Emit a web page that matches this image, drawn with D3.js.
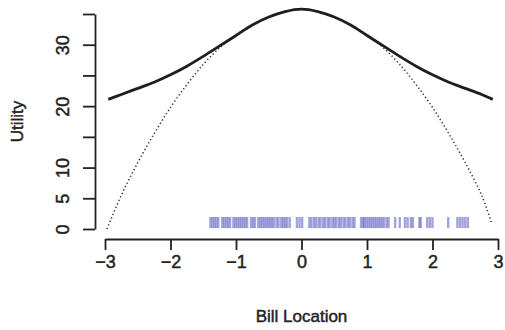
<!DOCTYPE html>
<html>
<head>
<meta charset="utf-8">
<script src="https://cdn.jsdelivr.net/npm/d3@7"></script>
<style>
  html, body { margin: 0; padding: 0; background: #fff; }
  svg { display: block; }
  text { font-family: "Liberation Sans", Arial, Helvetica, sans-serif; fill: #222; stroke: #222; stroke-width: 0.45px; }
</style>
</head>
<body>
<svg id="chart" width="505" height="330"></svg>
<script>
// ---- data ----
const solidX = [-2.95, -2.75, -2.5, -2.25, -2, -1.75, -1.5, -1.25, -1, -0.75, -0.5, -0.25, 0,
                0.25, 0.5, 0.75, 1, 1.25, 1.5, 1.75, 2, 2.25, 2.5, 2.75, 2.92];
const solidUtility = [21.1, 21.9, 22.9, 23.9, 25.1, 26.5, 28.1, 29.8, 31.5, 33.2, 34.5, 35.4, 35.8,
                      35.4, 34.5, 33.2, 31.5, 29.8, 28.1, 26.5, 25.1, 23.9, 22.9, 21.9, 21.1];
const dottedX = [-2.97, -2.75, -2.5, -2.25, -2, -1.75, -1.5, -1.25, -1, -0.75, -0.5, -0.25, 0,
                 0.25, 0.5, 0.75, 1, 1.25, 1.5, 1.75, 2, 2.25, 2.5, 2.75, 2.9];
const dottedUtility = [0, 5.5, 10.8, 15.5, 19.8, 23.5, 26.8, 29.5, 31.6, 33.2, 34.5, 35.4, 35.8,
                       35.4, 34.5, 33.2, 31.6, 29.5, 26.8, 23.5, 19.8, 15.5, 10.8, 5.5, 1.0];
const billLocations = [
  -1.39, -1.36, -1.33, -1.30, -1.27, -1.21, -1.18, -1.15, -1.12, -1.09, -1.04, -1.01, -0.98,
  -0.95, -0.92, -0.89, -0.86, -0.83, -0.77, -0.74, -0.71, -0.66, -0.63, -0.60, -0.57, -0.54,
  -0.51, -0.48, -0.45, -0.42, -0.38, -0.35, -0.31, -0.28, -0.25, -0.22, -0.18, -0.07, -0.03,
  0.01, 0.12, 0.15, 0.19, 0.22, 0.26, 0.29, 0.33, 0.36, 0.40, 0.43, 0.47, 0.50, 0.53, 0.57,
  0.60, 0.64, 0.67, 0.71, 0.74, 0.78, 0.81, 0.91, 0.94, 0.96, 0.99, 1.02, 1.05, 1.08, 1.11,
  1.14, 1.17, 1.20, 1.23, 1.26, 1.30, 1.33, 1.43, 1.50, 1.58, 1.62, 1.67, 1.70, 1.80, 1.82,
  1.92, 1.96, 2.00, 2.24, 2.38, 2.42, 2.46, 2.50, 2.54
];
const xTicks = [-3, -2, -1, 0, 1, 2, 3];
const yTicks = [0, 5, 10, 15, 20, 25, 30, 35];
const yTickLabels = [0, 5, 10, 20, 30];
const rugLow = 0.15, rugHigh = 1.95;

// ---- scales ----
const svg = d3.select("#chart");
const x = d3.scaleLinear().domain([-3, 3]).range([105, 498]);
const y = d3.scaleLinear().domain([0, 35]).range([229, 14]);

// ---- x axis ----
const xAxis = d3.axisBottom(x)
  .tickValues(xTicks)
  .tickSize(11)
  .tickSizeOuter(0)
  .tickPadding(5)
  .tickFormat(d => d < 0 ? "\u2212" + Math.abs(d) : String(d));
const gx = svg.append("g").attr("transform", "translate(0,239)").call(xAxis);
gx.selectAll("path, line").attr("stroke", "#222").attr("stroke-width", 1.8);
gx.selectAll("text").style("font-size", "18px").attr("fill", "#222")
  .style("font-family", "'Liberation Sans', Arial, sans-serif");

// ---- y axis ----
const yAxis = d3.axisLeft(y)
  .tickValues(yTicks)
  .tickSize(12)
  .tickSizeOuter(0)
  .tickFormat(d => yTickLabels.includes(d) ? String(d) : "");
const gy = svg.append("g").attr("transform", "translate(95,0)").call(yAxis);
gy.selectAll("path, line").attr("stroke", "#222").attr("stroke-width", 1.8);
gy.selectAll(".tick text")
  .style("font-size", "18px")
  .style("font-family", "'Liberation Sans', Arial, sans-serif")
  .attr("fill", "#222")
  .attr("text-anchor", "middle")
  .attr("dy", 0)
  .attr("x", 0)
  .attr("y", 0)
  .attr("transform", "translate(-26,0) rotate(-90)");

// ---- rug ----
svg.append("g").selectAll("line").data(billLocations).join("line")
  .attr("x1", d => x(d)).attr("x2", d => x(d))
  .attr("y1", y(rugLow)).attr("y2", y(rugHigh))
  .attr("stroke", "#4a4ab8")
  .attr("stroke-opacity", 0.5)
  .attr("stroke-width", 2.4);

// ---- curves ----
const pts = (xs, vals) => xs.map((xv, i) => [xv, vals[i]]);
const line = d3.line().x(d => x(d[0])).y(d => y(d[1])).curve(d3.curveCatmullRom.alpha(0.5));

svg.append("path").datum(pts(dottedX, dottedUtility))
  .attr("d", line).attr("fill", "none")
  .attr("stroke", "#333").attr("stroke-width", 1.5)
  .attr("stroke-dasharray", "1.3,2.5");

svg.append("path").datum(pts(solidX, solidUtility))
  .attr("d", line).attr("fill", "none")
  .attr("stroke", "#1e1e1e").attr("stroke-width", 2.8);

// ---- axis titles ----
svg.append("text")
  .attr("x", x(0)).attr("y", 322)
  .attr("text-anchor", "middle")
  .style("font-size", "17px")
  .text("Bill Location");

svg.append("text")
  .attr("transform", `translate(23,${(y(0) + y(35)) / 2}) rotate(-90)`)
  .attr("text-anchor", "middle")
  .style("font-size", "17px")
  .text("Utility");
</script>
</body>
</html>
